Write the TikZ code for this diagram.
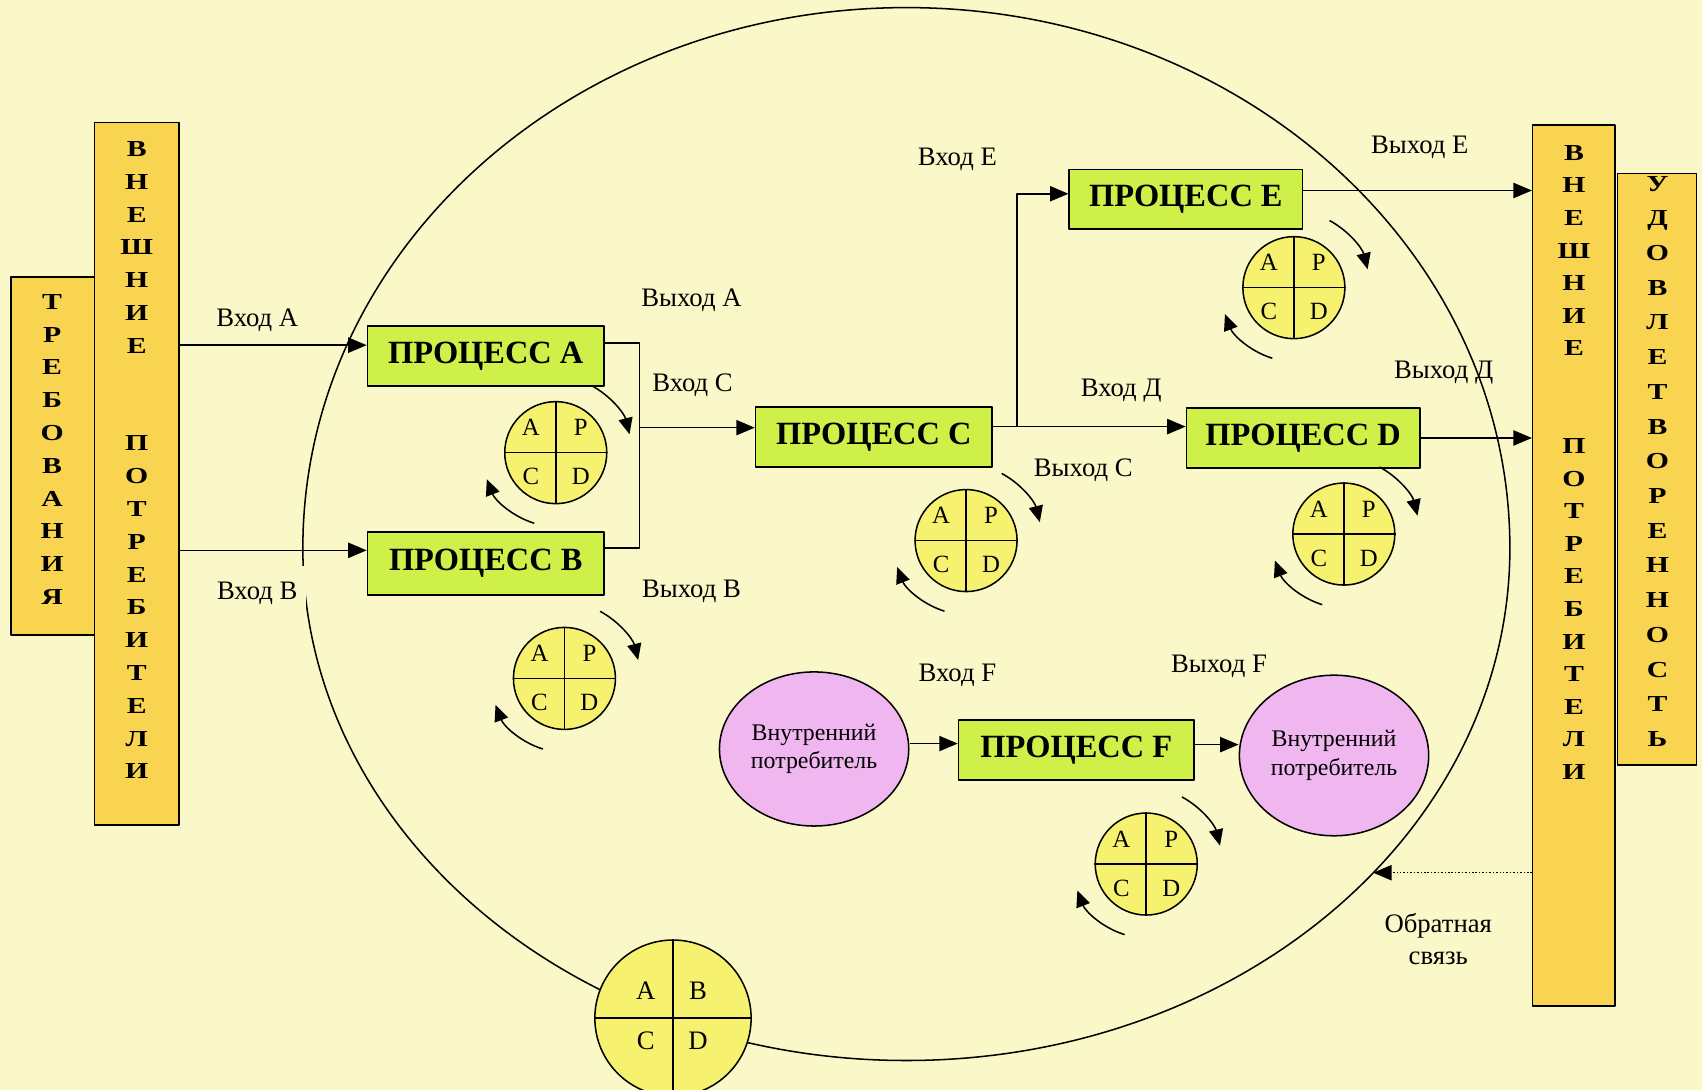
\documentclass[tikz,border=0pt]{standalone}
\usepackage{fontspec}
\setmainfont{Liberation Serif}
\newfontfamily\wideserif[FakeStretch=1.3]{Liberation Serif}
\usetikzlibrary{positioning,arrows.meta,calc,shapes.geometric}

\definecolor{bgyellow}{RGB}{250,247,200}
\definecolor{boxorange}{RGB}{249,212,80}
\definecolor{procgreen}{RGB}{206,240,72}
\definecolor{pdcayellow}{RGB}{246,242,112}
\definecolor{custpink}{RGB}{240,182,240}

\begin{document}
\begin{tikzpicture}[
    x=0.02cm, y=-0.02cm,
    line join=round,
    >={Triangle[length=0.34cm, width=0.28cm]},
    every node/.style={inner sep=2pt},
    extbox/.style={draw, thick, fill=boxorange, minimum width=1.56cm},
    vletters/.style={font=\wideserif\bfseries\fontsize{12}{17.2}\selectfont, align=center},
    proc/.style={draw, thick, fill=procgreen, minimum width=4.36cm, minimum height=1.1cm,
        font=\bfseries\fontsize{17}{20}\selectfont},
    pdca/.style={draw, thick, circle, fill=pdcayellow, minimum size=1.88cm, inner sep=0pt},
    pdcaletter/.style={font=\fontsize{13}{15}\selectfont},
    cust/.style={draw, thick, ellipse, fill=custpink, minimum width=3.24cm, minimum height=2.84cm,
        align=center, font=\fontsize{12.5}{15}\selectfont},
    lbl/.style={font=\fontsize{14}{17}\selectfont, align=center},
    flow/.style={->, thick},
    turnarrow/.style={-{Triangle[length=0.3cm, width=0.26cm]}, thick},
    fbflow/.style={->, thick, densely dotted},
    orbit/.style={thick}
]

% Background
\fill[bgyellow] (0,0) rectangle (1568,1004);
\useasboundingbox (0,0) rectangle (1568,1004);

% Organisation boundary
\draw[orbit] (279,505) arc[start angle=180, end angle=360, x radius=556, y radius=498]
    arc[start angle=0, end angle=180, x radius=556, y radius=472];

% Left side: requirements and external customers
\node[extbox, minimum height=6.6cm] (req) at (49,420) {};
\node[vletters] (reqtxt) at (48,414) {Т\\Р\\Е\\Б\\О\\В\\А\\Н\\И\\Я};
\node[extbox, minimum height=12.94cm] (extL) at (126,436.5) {};
\node[vletters] (extLtxt) at (126,424) {В\\Н\\Е\\Ш\\Н\\И\\Е\\[34pt]П\\О\\Т\\Р\\Е\\Б\\И\\Т\\Е\\Л\\И};

% Right side: external customers and satisfaction
\node[extbox, minimum width=1.46cm, minimum height=10.9cm] (sat) at (1526.5,432.5) {};
\node[vletters, font=\wideserif\bfseries\fontsize{12}{18.2}\selectfont] (sattxt) at (1527,425)
    {У\\Д\\О\\В\\Л\\Е\\Т\\В\\О\\Р\\Е\\Н\\Н\\О\\С\\Т\\Ь};
\node[extbox, minimum width=1.52cm, minimum height=16.24cm] (extR) at (1450,521) {};
\node[vletters, font=\wideserif\bfseries\fontsize{12}{17.1}\selectfont] (extRtxt) at (1450,426)
    {В\\Н\\Е\\Ш\\Н\\И\\Е\\[34pt]П\\О\\Т\\Р\\Е\\Б\\И\\Т\\Е\\Л\\И};

% Processes
\node[proc] (pA) at (447.5,328) {ПРОЦЕСС А};
\node[proc, minimum height=1.16cm] (pB) at (447.5,519) {ПРОЦЕСС В};
\node[proc] (pC) at (805,402.5) {ПРОЦЕСС С};
\node[proc, minimum width=4.3cm] (pE) at (1092.5,183.5) {ПРОЦЕСС Е};
\node[proc, minimum width=4.3cm] (pD) at (1200.5,403.5) {ПРОЦЕСС D};
\node[proc, minimum width=4.34cm] (pF) at (991.5,691) {ПРОЦЕСС F};

% Internal customers
\node[cust] (icL) at (750,690) {Внутренний\\потребитель};
\node[cust, minimum width=3.16cm, minimum height=2.96cm] (icR) at (1229,696) {Внутренний\\потребитель};

% PDCA cycles
\foreach \n/\cx/\cy in {pdA/512/417, pdB/520/625, pdC/890/498, pdE/1192/265, pdD/1238/492, pdF/1056/796}{
  \node[pdca] (\n) at (\cx,\cy) {};
  \draw[thick] (\n.north) -- (\n.south) (\n.west) -- (\n.east);
  \node[pdcaletter] (\n-a) at ([shift={(-23,-23)}]\n.center) {A};
  \node[pdcaletter] (\n-p) at ([shift={(23,-23)}]\n.center) {P};
  \node[pdcaletter] (\n-c) at ([shift={(-23,22)}]\n.center) {C};
  \node[pdcaletter] (\n-d) at ([shift={(23,22)}]\n.center) {D};
  \draw[turnarrow] (\n) ++(-62:70) arc[start angle=-62, end angle=-14, radius=70];
  \draw[turnarrow] (\n) ++(107:68) arc[start angle=107, end angle=159, radius=68];
}

% Big cycle on the boundary
\node[pdca, minimum size=2.88cm] (abcd) at (620,938) {};
\draw[thick] (abcd.north) -- (abcd.south) (abcd.west) -- (abcd.east);
\node[pdcaletter, font=\fontsize{14}{16}\selectfont] (abcd-a) at ([shift={(-25,-25)}]abcd.center) {A};
\node[pdcaletter, font=\fontsize{14}{16}\selectfont] (abcd-b) at ([shift={(23,-25)}]abcd.center) {B};
\node[pdcaletter, font=\fontsize{14}{16}\selectfont] (abcd-c) at ([shift={(-25,21)}]abcd.center) {C};
\node[pdcaletter, font=\fontsize{14}{16}\selectfont] (abcd-d) at ([shift={(23,21)}]abcd.center) {D};

% Flow arrows
\coordinate (inA) at ([yshift=0.2cm]pA.west);
\coordinate (inB) at ([yshift=0.24cm]pB.west);
\draw[flow] (extL.east |- inA) -- (inA);
\draw[flow] (extL.east |- inB) -- (inB);

\coordinate (outA) at ([yshift=0.24cm]pA.east);
\coordinate (outB) at ([yshift=0.28cm]pB.east);
\coordinate (jAB) at (589,394);
\draw[thick] (outA) -| (jAB) |- (outB);
\draw[flow] (jAB) -- (pC.west |- jAB);

\coordinate (jCE) at (937,393);
\coordinate (inE) at ([yshift=0.1cm]pE.west);
\coordinate (outE) at ([yshift=0.16cm]pE.east);
\draw[flow] (pC.east |- jCE) -- (pD.west |- jCE);
\draw[flow] (jCE) |- (inE);
\draw[flow] (outE) -- (extR.west |- outE);
\draw[flow] (pD.east) -- (extR.west |- pD.east);

\coordinate (inF) at ([yshift=0.12cm]pF.west);
\coordinate (outF) at ([yshift=0.1cm]pF.east);
\draw[flow] (icL.east |- inF) -- (inF);
\draw[flow] (outF) -- (icR.west |- outF);

\coordinate (fb) at (1265,804);
\draw[fbflow] (extR.west |- fb) -- (fb);

% Labels
\node[lbl] (lInA) at (237,295) {Вход А};
\node[lbl, fill=bgyellow, inner xsep=0.16cm, inner ysep=0.3cm] (lInB) at (237,547) {Вход В};
\node[lbl] (lOutA) at (637,277) {Выход А};
\node[lbl] (lInC) at (638,355) {Вход С};
\node[lbl] (lOutB) at (637,545) {Выход В};
\node[lbl] (lInE) at (882,147) {Вход Е};
\node[lbl] (lOutE) at (1308,136) {Выход Е};
\node[lbl] (lInD) at (1033,360) {Вход Д};
\node[lbl] (lOutC) at (998,433) {Выход С};
\node[lbl] (lOutD) at (1330,343) {Выход Д};
\node[lbl] (lInF) at (882,622) {Вход F};
\node[lbl] (lOutF) at (1123,614) {Выход F};
\node[lbl] (lFb) at (1325,865) {Обратная\\связь};

\end{tikzpicture}
\end{document}
